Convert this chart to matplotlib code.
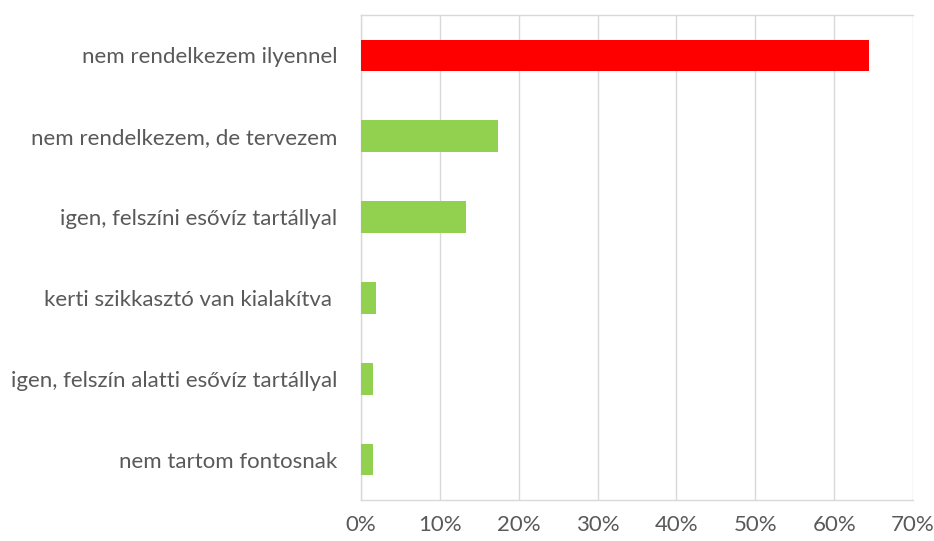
import matplotlib.pyplot as plt
from matplotlib.ticker import PercentFormatter

# Kategóriák felülről lefelé
kategoriak = [
    "nem rendelkezem ilyennel",
    "nem rendelkezem, de tervezem",
    "igen, felszíni esővíz tartállyal",
    "kerti szikkasztó van kialakítva ",
    "igen, felszín alatti esővíz tartállyal",
    "nem tartom fontosnak",
]
ertekek = [64.4, 17.4, 13.3, 1.9, 1.5, 1.5]
szinek = ["#FF0000", "#92D050", "#92D050", "#92D050", "#92D050", "#92D050"]
x_tickek = [0, 10, 20, 30, 40, 50, 60, 70]

plt.rcParams["font.family"] = ["Lato", "DejaVu Sans"]

fig = plt.figure(figsize=(9.34, 5.41), dpi=100)
ax = fig.add_axes([361 / 934, 41 / 541, 552 / 934, 485 / 541])

y = list(range(len(kategoriak)))[::-1]
ax.barh(y, ertekek, height=0.39, color=szinek, zorder=3)

ax.set_xlim(0, 70)
ax.set_ylim(-0.5, len(kategoriak) - 0.5)
ax.set_xticks(x_tickek)
ax.xaxis.set_major_formatter(PercentFormatter(decimals=0))
ax.set_yticks(y)
ax.set_yticklabels(kategoriak)

ax.grid(axis="x", color="#D9D9D9", linewidth=1.0, zorder=0)
for s in ax.spines.values():
    s.set_color("#D9D9D9")
    s.set_linewidth(1.0)
ax.spines["right"].set_visible(False)

ax.tick_params(axis="both", length=0, labelsize=16, colors="#595959")
ax.tick_params(axis="y", pad=17)
ax.tick_params(axis="x", pad=11)

plt.savefig("out.png", dpi=100)
